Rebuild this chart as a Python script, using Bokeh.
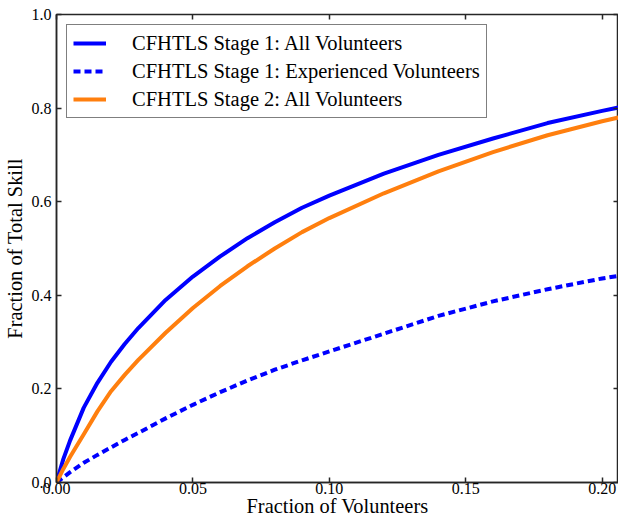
from bokeh.plotting import figure
from bokeh.models import LinearAxis, FixedTicker, Range1d, Legend, LegendItem, CustomJSTickFormatter
from bokeh.embed import file_html
from bokeh.resources import INLINE

# Data
frac_volunteers = [0.0, 0.0025, 0.005, 0.01, 0.015, 0.02, 0.025, 0.03, 0.04, 0.05, 0.06, 0.07,
                   0.08, 0.09, 0.10, 0.12, 0.14, 0.16, 0.18, 0.20, 0.21]
stage1_all = [0.0, 0.05, 0.09, 0.16, 0.213, 0.258, 0.296, 0.33, 0.39, 0.44, 0.483, 0.522,
              0.556, 0.587, 0.613, 0.66, 0.70, 0.735, 0.768, 0.794, 0.806]
stage1_exp = [0.0, 0.011, 0.022, 0.042, 0.059, 0.075, 0.091, 0.106, 0.137, 0.166, 0.193, 0.218,
              0.241, 0.261, 0.28, 0.318, 0.356, 0.387, 0.413, 0.436, 0.445]
stage2_all = [0.0, 0.029, 0.055, 0.103, 0.152, 0.195, 0.23, 0.262, 0.32, 0.373, 0.42, 0.462,
              0.50, 0.535, 0.565, 0.618, 0.665, 0.706, 0.742, 0.772, 0.785]
x_ticks = [0.0, 0.05, 0.10, 0.15, 0.20]
y_ticks = [0.0, 0.2, 0.4, 0.6, 0.8, 1.0]
labels = ["CFHTLS Stage 1: All Volunteers",
          "CFHTLS Stage 1: Experienced Volunteers",
          "CFHTLS Stage 2: All Volunteers"]

FONT = "Liberation Serif"
BLUE = "#0000ff"
ORANGE = "#ff7f0e"
SPINE = "#262626"

p = figure(width=618, height=519, output_backend="svg", toolbar_location=None,
           x_range=Range1d(0, 0.206), y_range=Range1d(0, 1.0),
           min_border_left=55, min_border_right=0, min_border_top=14, min_border_bottom=34)
p.background_fill_color = "white"
p.border_fill_color = "white"
p.grid.visible = False
p.outline_line_color = SPINE
p.outline_line_width = 1.5

r1 = p.line(frac_volunteers, stage1_all, line_color=BLUE, line_width=4, line_join="round")
r2 = p.line(frac_volunteers, stage1_exp, line_color=BLUE, line_width=4, line_dash="7 4")
r3 = p.line(frac_volunteers, stage2_all, line_color=ORANGE, line_width=4, line_join="round")

def style_axis(ax):
    ax.major_tick_in = 5
    ax.major_tick_out = 0
    ax.minor_tick_in = 0
    ax.minor_tick_out = 0
    ax.axis_line_color = SPINE
    ax.axis_line_width = 1.5
    ax.major_tick_line_color = SPINE
    ax.major_tick_line_width = 1.5
    ax.major_label_text_font = FONT
    ax.major_label_text_font_size = "16px"
    ax.major_label_text_color = "black"
    ax.axis_label_text_font = FONT
    ax.axis_label_text_font_size = "20.4px"
    ax.axis_label_text_font_style = "normal"
    ax.axis_label_text_color = "black"

xa = p.xaxis[0]
xa.ticker = FixedTicker(ticks=x_ticks)
xa.formatter = CustomJSTickFormatter(code="return tick.toFixed(2);")
xa.axis_label = "Fraction of Volunteers"
style_axis(xa)
xa.major_label_standoff = 0
xa.axis_label_standoff = -2

ya = p.yaxis[0]
ya.ticker = FixedTicker(ticks=y_ticks)
ya.formatter = CustomJSTickFormatter(code="return tick.toFixed(1);")
ya.axis_label = "Fraction of Total Skill"
style_axis(ya)
ya.major_label_standoff = 5
ya.axis_label_standoff = 3

blank = CustomJSTickFormatter(code="return '';")
top = LinearAxis(ticker=FixedTicker(ticks=x_ticks), formatter=blank)
style_axis(top)
top.major_label_text_font_size = "1px"
top.major_label_standoff = 0
top.axis_line_color = None
p.add_layout(top, "above")
right = LinearAxis(ticker=FixedTicker(ticks=y_ticks), formatter=blank)
style_axis(right)
right.major_label_text_font_size = "1px"
right.major_label_standoff = 0
right.axis_line_color = None
p.add_layout(right, "right")

legend = Legend(items=[LegendItem(label=labels[0], renderers=[r1]),
                       LegendItem(label=labels[1], renderers=[r2]),
                       LegendItem(label=labels[2], renderers=[r3])],
                location="top_left")
legend.margin = 10
legend.padding = 6
legend.spacing = 4
legend.label_height = 24
legend.glyph_height = 24
legend.glyph_width = 33
legend.label_standoff = 26
legend.label_text_font = FONT
legend.label_text_font_size = "20.5px"
legend.label_text_color = "black"
legend.border_line_color = "black"
legend.border_line_width = 1.2
legend.background_fill_alpha = 1.0
p.add_layout(legend)

open("out.html", "w").write(file_html(p, INLINE))
